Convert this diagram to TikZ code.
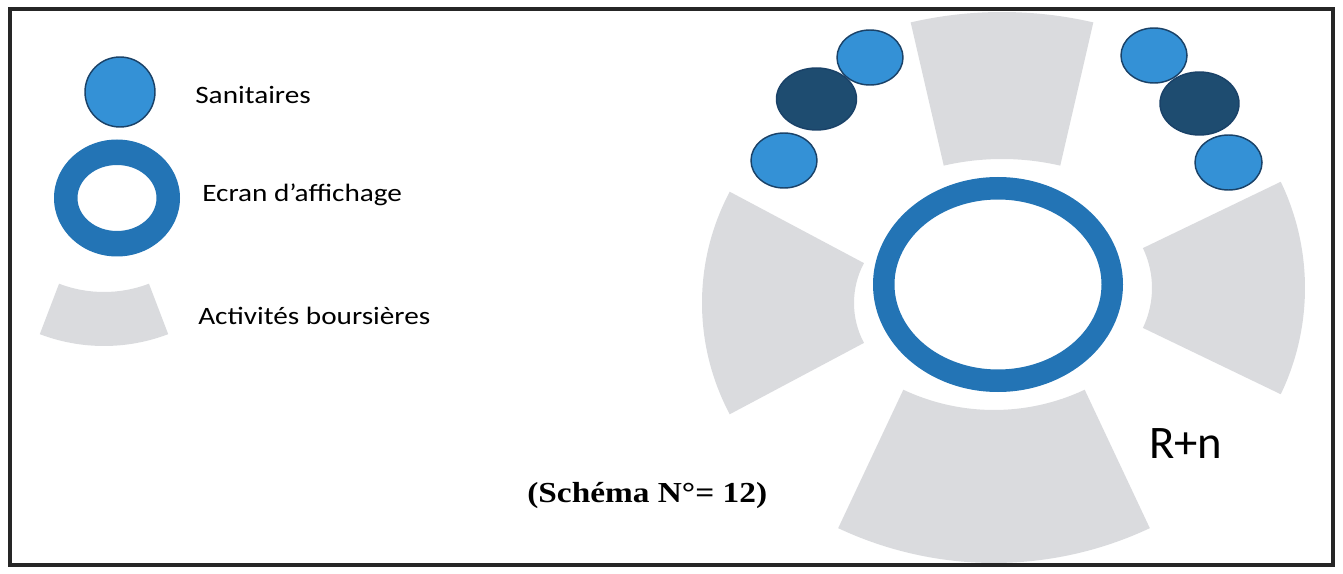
\documentclass[tikz,border=0pt]{standalone}
\usepackage{fontspec}
\setmainfont{Carlito}
\newfontfamily\schemafont{Liberation Serif}
\usetikzlibrary{calc}

\definecolor{sanblue}{RGB}{52,145,214}
\definecolor{sandark}{RGB}{30,76,112}
\definecolor{sanedge}{RGB}{26,66,104}
\definecolor{ecranblue}{RGB}{35,116,181}
\definecolor{boursegray}{RGB}{218,219,222}

\begin{document}
\begin{tikzpicture}[
  x=0.75pt, y=-0.75pt,
  sanitaire/.style={fill=sanblue, draw=sanedge, line width=1.1pt},
  sanitairedark/.style={sanitaire, fill=sandark},
  ecran/.style={fill=ecranblue, even odd rule},
  bourse/.style={fill=boursegray},
  legende/.style={
    font=\fontsize{18.75}{22}\selectfont, anchor=base west,
    inner sep=0pt, xscale=1.17
  },
  cadre/.style={draw=black!85, line width=3pt}
]
  \useasboundingbox (0,0) rectangle (1343,574);

  %% legend
  \draw[sanitaire] (120,92) circle [radius=35];
  \fill[ecran] (117,198) ellipse [x radius=63, y radius=58.5]
               (117,198) ellipse [x radius=39.5, y radius=33];
  \node[legende] (sanitaires) at (195,104) {Sanitaires};
  \node[legende] (ecran) at (202,201.5) {Ecran d’affichage};
  \node[legende] (bourse) at (198,324) {Activités boursières};

  %% activity sectors (legend, top, left, right, bottom)
  \foreach \cx/\cy/\ri/\ro/\a/\b in {
      104/166/126/180/69.1/110.9,
      1002/418/259/406/257/283,
      939/303/85/237/152/208,
      1060/288/92/245/-25.7/25.7,
      994/197/213/366/64.8/115.2}
    \fill[bourse] ($(\cx,\cy)+(\a:\ri)$) arc[start angle=\a, end angle=\b, radius=\ri]
      -- ($(\cx,\cy)+(\b:\ro)$) arc[start angle=\b, end angle=\a, radius=\ro] -- cycle;

  %% display ring
  \fill[ecran] (998,284.5) ellipse [x radius=125, y radius=107.5]
               (998,284.5) ellipse [x radius=103.5, y radius=85];

  %% sanitary blocks, left
  \draw[sanitaire] (870,57.5) ellipse [x radius=33, y radius=27.5];
  \draw[sanitairedark] (816.5,99) ellipse [x radius=40, y radius=31];
  \draw[sanitaire] (784,160.5) ellipse [x radius=33, y radius=27.5];

  %% sanitary blocks, right
  \draw[sanitaire] (1154,55.5) ellipse [x radius=33, y radius=27.5];
  \draw[sanitairedark] (1199.5,103.5) ellipse [x radius=39.5, y radius=31.5];
  \draw[sanitaire] (1228.5,162.5) ellipse [x radius=33.5, y radius=27.5];

  %% labels
  \node[font=\fontsize{35}{40}\selectfont, anchor=base west, inner sep=0pt] (niveau) at (1149,458) {R+n};
  \node[font=\schemafont\bfseries\fontsize{21.75}{26}\selectfont, anchor=base west,
        inner sep=0pt, xscale=1.15] (schema) at (527,502) {(Schéma N°= 12)};

  %% frame
  \draw[cadre] (9.5,9) rectangle (1333,565);
\end{tikzpicture}
\end{document}
